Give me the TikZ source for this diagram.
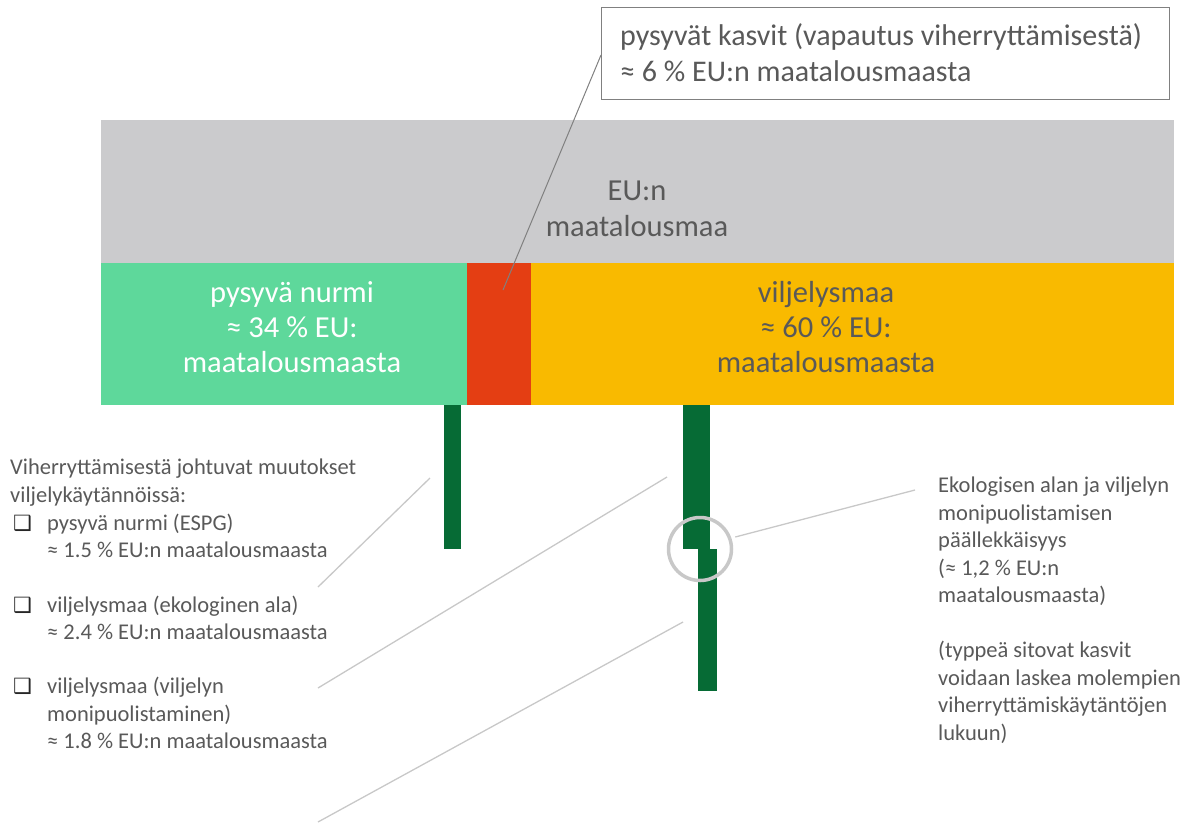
\documentclass[tikz,border=0pt]{standalone}
\usepackage{fontspec}
\setmainfont{Carlito}
\newfontfamily\symfont{DejaVu Sans}
\definecolor{areagray}{HTML}{CBCBCD}
\definecolor{grassgreen}{HTML}{5ED89B}
\definecolor{permred}{HTML}{E43E13}
\definecolor{arableorange}{HTML}{F9BA00}
\definecolor{greeningdark}{HTML}{066B35}
\definecolor{txtgray}{HTML}{595959}
\definecolor{leadgray}{HTML}{C8C8C8}
\begin{document}
\begin{tikzpicture}[x=1pt,y=-1pt,
  bar/.style={fill=greeningdark,draw=none},
  bigtxt/.style={font=\fontsize{30.5}{36}\selectfont,inner sep=0pt,anchor=base},
  boxtxt/.style={font=\fontsize{30}{36}\selectfont,inner sep=0pt,anchor=base west,text=txtgray},
  smalltxt/.style={font=\fontsize{22.5}{27}\selectfont,inner sep=0pt,anchor=base west,text=txtgray},
  bul/.style={font=\symfont\fontsize{21}{24}\selectfont,inner sep=0pt,anchor=base west,text=black!85},
  lead/.style={draw=leadgray,line width=1.3pt},
]
\useasboundingbox (0,0) rectangle (1195,823);

% land areas
\fill[areagray] (101,120) rectangle (1174,263);
\fill[grassgreen] (101,263) rectangle (467,405);
\fill[permred] (467,263) rectangle (531,405);
\fill[arableorange] (531,263) rectangle (1174,405);

% greening bars
\fill[bar] (444,405) rectangle (461,549);
\fill[bar] (683,405) rectangle (710,549);
\fill[bar] (698,549) rectangle (717,691);

% overlap marker
\node[draw=leadgray,line width=3.5pt,circle,minimum size=63pt,inner sep=0pt] (ovl) at (700,549) {};

% labels in the blocks
\node[bigtxt,text=txtgray] (eu1) at (637,200) {EU:n};
\node[bigtxt,text=txtgray] (eu2) at (637,236) {maatalousmaa};
\node[bigtxt,text=white] (pn1) at (292,302) {pysyvä nurmi};
\node[bigtxt,text=white] (pn2) at (292,337) {≈ 34 \% EU:};
\node[bigtxt,text=white] (pn3) at (292,372) {maatalousmaasta};
\node[bigtxt,text=txtgray] (vm1) at (826,302) {viljelysmaa};
\node[bigtxt,text=txtgray] (vm2) at (826,337) {≈ 60 \% EU:};
\node[bigtxt,text=txtgray] (vm3) at (826,372) {maatalousmaasta};

% permanent crops call-out
\node[draw=black!50,line width=1pt,fill=white,minimum width=568pt,minimum height=92pt,anchor=north west] (pkbox) at (601,7) {};
\node[boxtxt] (pk1) at (620,45) {pysyvät kasvit (vapautus viherryttämisestä)};
\node[boxtxt] (pk2) at (620,81) {≈ 6 \% EU:n maatalousmaasta};
\coordinate (pkend) at (503,290);
\draw[black!50,line width=1pt] (pkbox.west |- 0,55) -- (pkend);

% left legend
\node[smalltxt] (lg0) at (10,474) {Viherryttämisestä johtuvat muutokset};
\node[smalltxt] (lg1) at (10,502) {viljelykäytännöissä:};
\node[bul] (b1) at (13,530) {❑};
\node[smalltxt] (i1a) at (47,530) {pysyvä nurmi (ESPG)};
\node[smalltxt] (i1b) at (47,557) {≈ 1.5 \% EU:n maatalousmaasta};
\node[bul] (b2) at (13,612) {❑};
\node[smalltxt] (i2a) at (47,612) {viljelysmaa (ekologinen ala)};
\node[smalltxt] (i2b) at (47,639) {≈ 2.4 \% EU:n maatalousmaasta};
\node[bul] (b3) at (13,693) {❑};
\node[smalltxt] (i3a) at (47,693) {viljelysmaa (viljelyn};
\node[smalltxt] (i3b) at (47,721) {monipuolistaminen)};
\node[smalltxt] (i3c) at (47,748) {≈ 1.8 \% EU:n maatalousmaasta};

% right note
\node[smalltxt] (r1) at (938,492) {Ekologisen alan ja viljelyn};
\node[smalltxt] (r2) at (938,520) {monipuolistamisen};
\node[smalltxt] (r3) at (938,547) {päällekkäisyys};
\node[smalltxt] (r4) at (938,575) {(≈ 1,2 \% EU:n};
\node[smalltxt] (r5) at (938,602) {maatalousmaasta)};
\node[smalltxt] (r6) at (938,657) {(typpeä sitovat kasvit};
\node[smalltxt] (r7) at (938,685) {voidaan laskea molempien};
\node[smalltxt] (r8) at (938,712) {viherryttämiskäytäntöjen};
\node[smalltxt] (r9) at (938,740) {lukuun)};

% leader lines
\coordinate (l1a) at (318,587); \coordinate (l1b) at (430,478);
\coordinate (l2a) at (318,688); \coordinate (l2b) at (667,477);
\coordinate (l3a) at (318,822); \coordinate (l3b) at (683,622);
\coordinate (l4b) at (915,490);
\draw[lead] (l1a) -- (l1b);
\draw[lead] (l2a) -- (l2b);
\draw[lead] (l3a) -- (l3b);
\draw[lead] (ovl.east |- 0,537) ++(2,0) -- (l4b);
\end{tikzpicture}
\end{document}
